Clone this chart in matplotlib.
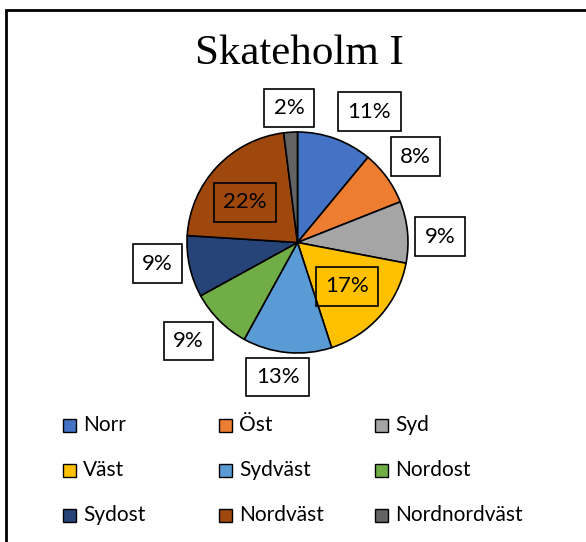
import matplotlib
matplotlib.use("Agg")
import matplotlib.pyplot as plt
from matplotlib.patches import Rectangle
import numpy as np

categories = ["Norr", "Öst", "Syd", "Väst", "Sydväst", "Nordost", "Sydost", "Nordväst", "Nordnordväst"]
values = [11, 8, 9, 17, 13, 9, 9, 22, 2]
colors = ["#4472C4", "#ED7D31", "#A5A5A5", "#FFC000", "#5B9BD5", "#70AD47", "#264478", "#9E480E", "#636363"]
title = "Skateholm I"

# label placement style: radial distance factor and angular nudge (degrees)
label_dist = [1.35, 1.32, 1.29, 0.60, 1.23, 1.33, 1.28, 0.60, 1.22]
label_nudge = [-9, 0, -3, 0, -3, -3, -4, 6, 0]

W, H = 586, 542
fig = plt.figure(figsize=(W / 100, H / 100), dpi=100)
fig.patch.set_facecolor("white")

# outer chart border (cropped at right and bottom)
fig.patches.append(Rectangle((6 / W, -0.05), 1.2, (H - 10) / H + 0.05, transform=fig.transFigure,
                             fill=False, edgecolor="black", linewidth=2.0))

cx, cy, r = 297.5, 242.5, 110.5
ax = fig.add_axes([(cx - r) / W, (H - cy - r) / H, 2 * r / W, 2 * r / H])
ax.axis("off")

wedges, _ = ax.pie(values, colors=colors, startangle=90, counterclock=False, radius=1,
                   wedgeprops=dict(edgecolor="black", linewidth=1.2))
ax.set_xlim(-1, 1)
ax.set_ylim(-1, 1)

label_font = "Lato"
total = sum(values)
cum = 0
for i, v in enumerate(values):
    mid = cum + v / 2
    cum += v
    ang = np.deg2rad(90 - 360 * mid / total + label_nudge[i])
    d = label_dist[i]
    x, y = d * np.cos(ang), d * np.sin(ang)
    inside = d < 1
    ax.text(x, y, f"{v}%", ha="center", va="center", fontsize=16, family=label_font,
            color="black", clip_on=False,
            bbox=dict(boxstyle="square,pad=0.42", facecolor="none" if inside else "white",
                      edgecolor="black", linewidth=1.2))

fig.text(299 / W, 1 - 54 / H, title, ha="center", va="center", fontsize=31,
         family="Liberation Serif", color="black")

# legend: 3 columns x 3 rows
col_x = [63, 219, 375]
row_y = [425, 470, 515]
sq = 13
for i, (cat, col) in enumerate(zip(categories, colors)):
    cxp = col_x[i % 3]
    cyp = row_y[i // 3]
    fig.patches.append(Rectangle((cxp / W, (H - cyp - sq / 2) / H), sq / W, sq / H,
                                 transform=fig.transFigure, facecolor=col,
                                 edgecolor="black", linewidth=1.0))
    fig.text((cxp + sq + 7) / W, (H - cyp) / H, cat, ha="left", va="center",
             fontsize=15, family=label_font, color="black")

fig.savefig("out.png", dpi=100)
